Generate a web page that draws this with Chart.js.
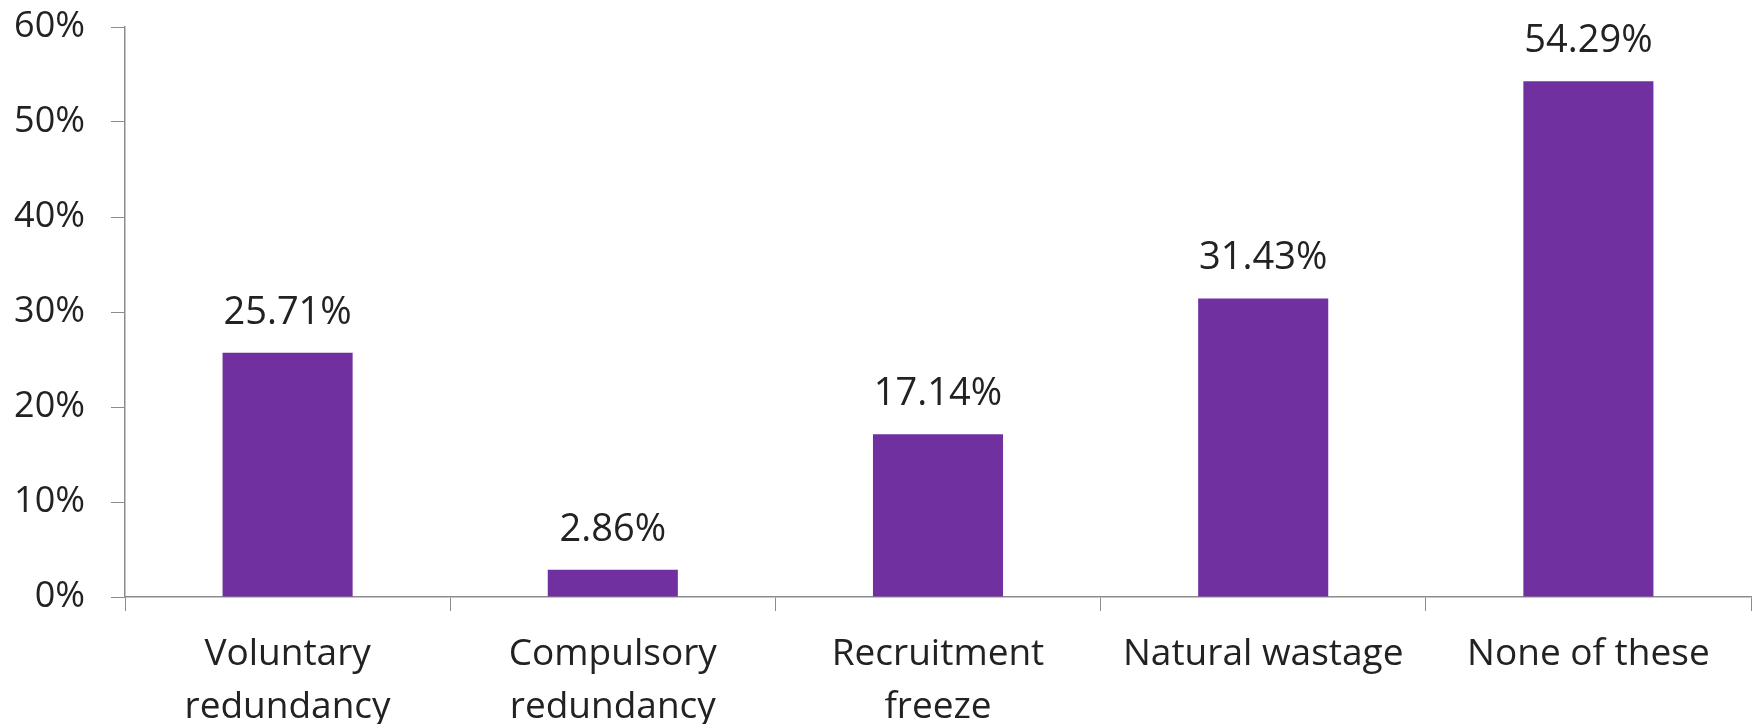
<!DOCTYPE html>
<html>
<head>
<meta charset="utf-8">
<script src="https://cdn.jsdelivr.net/npm/chart.js@4.4.1/dist/chart.umd.min.js"></script>
<style>
  html, body { margin: 0; padding: 0; background: #ffffff; }
  #wrap { width: 1760px; height: 724px; }
</style>
</head>
<body>
<div id="wrap"><canvas id="chart" width="1760" height="724"></canvas></div>
<script>
// ---- data ----
const categories = [
  ['Voluntary', 'redundancy'],
  ['Compulsory', 'redundancy'],
  ['Recruitment', 'freeze'],
  'Natural wastage',
  'None of these'
];
const shares = [25.71, 2.86, 17.14, 31.43, 54.29];
const yTicks = [0, 10, 20, 30, 40, 50, 60];

const BAR_COLOR = '#7030a0';
const AXIS_COLOR = '#8c8c8c';
const TEXT_COLOR = '#222222';
const FONT = "'Open Sans', sans-serif";

// value labels above each bar
const valueLabels = {
  id: 'valueLabels',
  afterDatasetsDraw(chart) {
    const ctx = chart.ctx;
    const meta = chart.getDatasetMeta(0);
    ctx.save();
    ctx.font = `38px ${FONT}`;
    ctx.fillStyle = TEXT_COLOR;
    ctx.textAlign = 'center';
    ctx.textBaseline = 'alphabetic';
    meta.data.forEach((bar, i) => {
      ctx.fillText(shares[i].toFixed(2) + '%', bar.x, bar.y - 29);
    });
    ctx.restore();
  }
};

new Chart(document.getElementById('chart'), {
  type: 'bar',
  data: {
    labels: categories,
    datasets: [{
      data: shares,
      backgroundColor: BAR_COLOR,
      borderWidth: 0,
      categoryPercentage: 1,
      barPercentage: 0.4
    }]
  },
  options: {
    responsive: false,
    animation: false,
    layout: { padding: { top: 27, right: 9, left: 0, bottom: 0 } },
    plugins: {
      legend: { display: false },
      tooltip: { enabled: false }
    },
    scales: {
      x: {
        grid: {
          drawOnChartArea: false,
          drawTicks: true,
          tickLength: 14,
          color: AXIS_COLOR,
          offset: true
        },
        border: { color: AXIS_COLOR, width: 1.5 },
        ticks: {
          font: { family: FONT, size: 37, lineHeight: 1.43 },
          color: TEXT_COLOR,
          padding: 17,
          maxRotation: 0,
          autoSkip: false
        },
        afterFit(scale) { scale.height = 127; }
      },
      y: {
        min: 0,
        max: 60,
        afterBuildTicks(scale) { scale.ticks = yTicks.map(v => ({ value: v })); },
        grid: {
          drawOnChartArea: false,
          drawTicks: true,
          tickLength: 14,
          color: AXIS_COLOR
        },
        border: { color: AXIS_COLOR, width: 1.5 },
        ticks: {
          font: { family: FONT, size: 36 },
          color: TEXT_COLOR,
          padding: 26,
          callback: v => v + '%'
        },
        afterFit(scale) {
          scale.width = 125;
          // tick padding otherwise pushes the plot top down
          scale.paddingTop = 0;
          scale.paddingBottom = 0;
        }
      }
    }
  },
  plugins: [valueLabels]
});
</script>
</body>
</html>
